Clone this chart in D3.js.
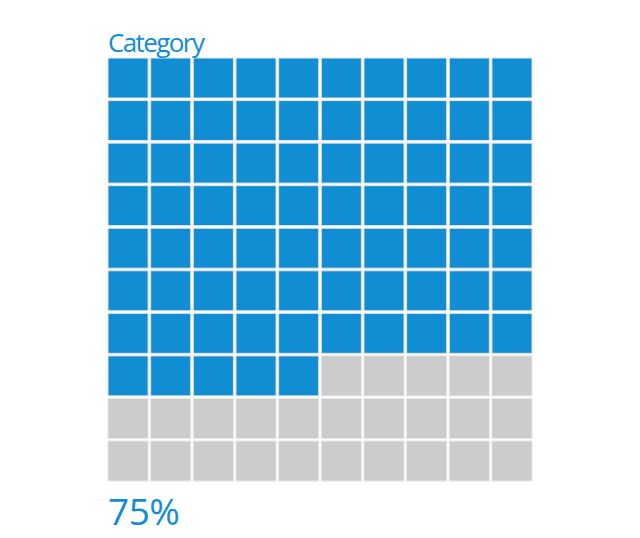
<!DOCTYPE html>
<html>
<head>
<meta charset="utf-8">
<script src="https://cdn.jsdelivr.net/npm/d3@7"></script>
<style>
  body { margin: 0; background: #fff; }
  text { font-family: "Open Sans", "Noto Sans", sans-serif; }
</style>
</head>
<body>
<div id="chart"></div>
<script>
var categoryLabel = "Category";
var percentValue = 75;
var totalCells = 100;
var columns = d3.range(10);
var rows = d3.range(10);

var width = 640, height = 538;
var svg = d3.select("#chart").append("svg")
    .attr("width", width)
    .attr("height", height);

var x = d3.scaleBand().domain(columns).range([108, 532]).paddingInner(0.06);
var y = d3.scaleBand().domain(rows).range([58, 481]).paddingInner(0.06);

var cells = d3.range(totalCells).map(function (i) {
    return { col: i % 10, row: Math.floor(i / 10), filled: i < percentValue };
});

svg.append("g")
  .selectAll("rect")
  .data(cells)
  .enter()
  .append("rect")
    .attr("x", function (d) { return x(d.col); })
    .attr("y", function (d) { return y(d.row); })
    .attr("width", x.bandwidth())
    .attr("height", y.bandwidth())
    .style("fill", function (d) { return d.filled ? "#118dd4" : "#cccccc"; })
    .style("stroke", "#e6e6e6")
    .style("stroke-width", 1);

svg.append("text")
    .attr("x", 108)
    .attr("y", 52)
    .style("font-size", "26px")
    .style("letter-spacing", "-1.6px")
    .style("fill", "#118dd4")
    .text(categoryLabel);

svg.append("text")
    .attr("x", 108)
    .attr("y", 525)
    .style("font-size", "37px")
    .style("letter-spacing", "-0.5px")
    .style("fill", "#118dd4")
    .text(percentValue + "%");
</script>
</body>
</html>
